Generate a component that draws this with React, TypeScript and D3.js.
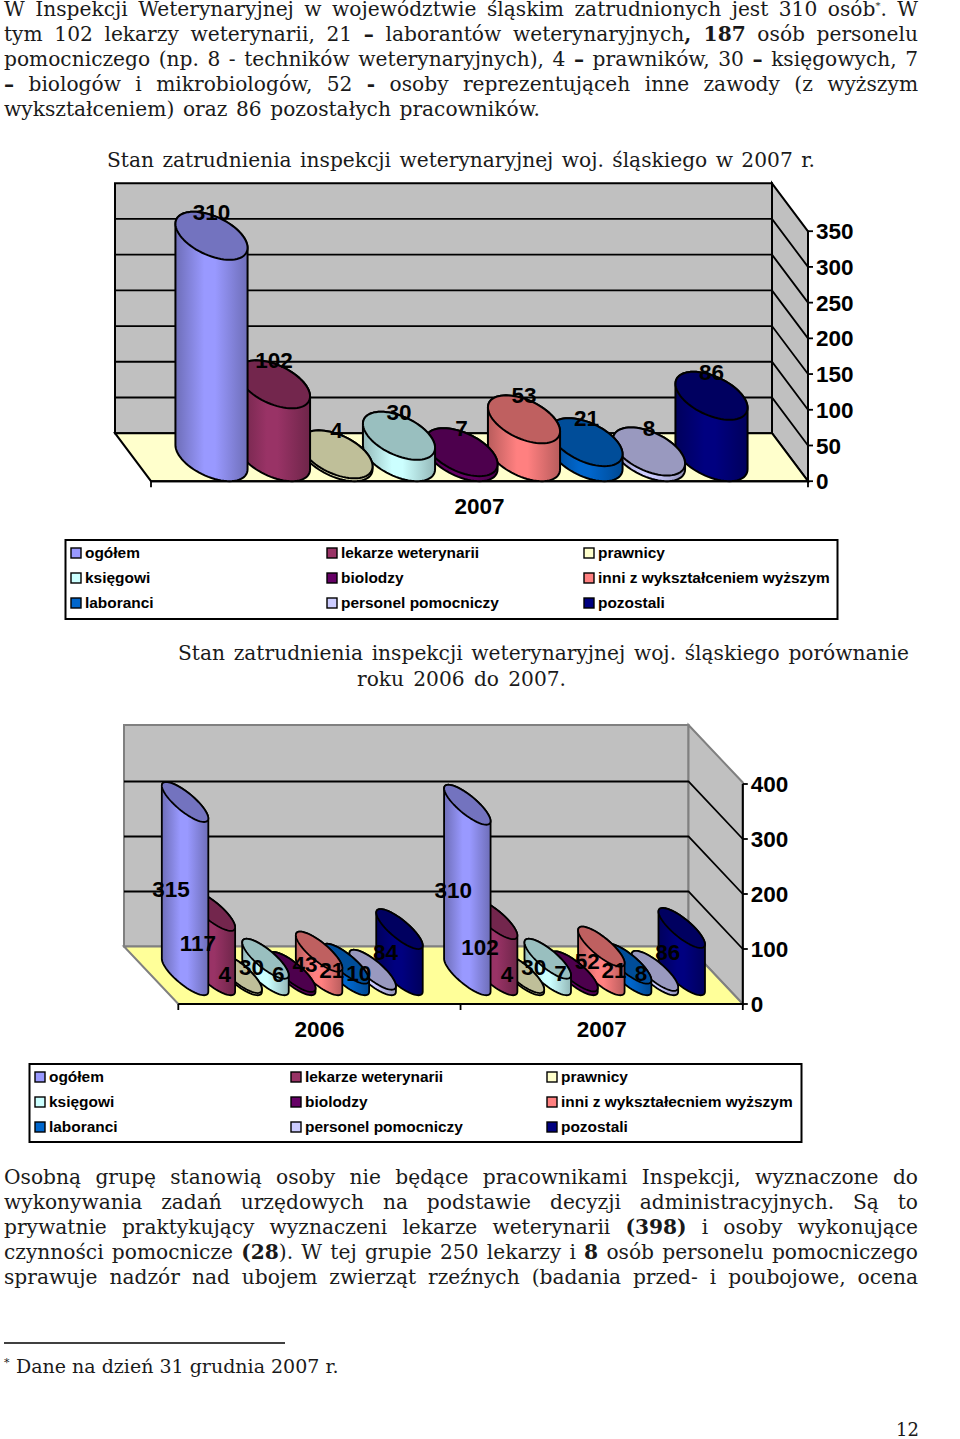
import React from "react";
import * as d3 from "d3";

const W = 960, H = 1439;
const seriesNames1 = ["ogółem","lekarze weterynarii","prawnicy","księgowi","biolodzy","inni z wykształceniem wyższym","laboranci","personel pomocniczy","pozostali"];
const seriesNames2 = ["ogółem","lekarze weterynarii","prawnicy","księgowi","biolodzy","inni z wykształecniem wyższym","laboranci","personel pomocniczy","pozostali"];
const colors = ["#9999ff","#993366","#ffffcc","#ccffff","#660066","#ff8080","#0066cc","#ccccff","#000080"];
const values2007a = [310,102,4,30,7,53,21,8,86];
const values2006 = [315,117,4,30,6,43,21,10,84];
const values2007b = [310,102,4,30,7,52,21,8,86];
const ticks1 = [0,50,100,150,200,250,300,350];
const ticks2 = [0,100,200,300,400];

const serif = "'DejaVu Serif'";
const sans = "'Liberation Sans'";

type Ln = { t: string; y: number; x?: number; j?: boolean; end?: number };
// ** toggles bold, ^ is a superscript asterisk
const bodyLines: Ln[] = [
  { t: "W Inspekcji Weterynaryjnej w województwie śląskim zatrudnionych jest 310 osób^. W", y: 15.5, j: true },
  { t: "tym 102 lekarzy weterynarii, 21 **–** laborantów weterynaryjnych**, 187** osób personelu", y: 41, j: true },
  { t: "pomocniczego (np. 8 - techników weterynaryjnych), 4 **–** prawników, 30 **–** księgowych, 7", y: 66, j: true },
  { t: "**–** biologów i mikrobiologów, 52 **-** osoby reprezentująceh inne zawody (z wyższym", y: 91, j: true },
  { t: "wykształceniem) oraz 86 pozostałych pracowników.", y: 116, end: 540 },
  { t: "Stan zatrudnienia inspekcji weterynaryjnej woj. śląskiego w 2007 r.", y: 166.5, x: 107, end: 815 },
  { t: "Stan zatrudnienia inspekcji weterynaryjnej woj. śląskiego porównanie", y: 660, x: 178, end: 909 },
  { t: "roku 2006 do 2007.", y: 685.5, x: 357, end: 566 },
  { t: "Osobną grupę stanowią osoby nie będące pracownikami Inspekcji, wyznaczone do", y: 1184, j: true },
  { t: "wykonywania zadań urzędowych na podstawie decyzji administracyjnych. Są to", y: 1209, j: true },
  { t: "prywatnie praktykujący wyznaczeni lekarze weterynarii **(398)** i osoby wykonujące", y: 1234, j: true },
  { t: "czynności pomocnicze **(28**). W tej grupie 250 lekarzy i **8** osób personelu pomocniczego", y: 1259, j: true },
  { t: "sprawuje nadzór nad ubojem zwierząt rzeźnych (badania przed- i poubojowe, ocena", y: 1284, j: true },
];
const FS = 20.2;
const SUP = 10;

function parseSegs(t: string) {
  return t.split("**").map((s, i) => ({ s, bold: i % 2 === 1 })).filter(x => x.s.length);
}

let mctx: CanvasRenderingContext2D | null = null;
function wordSpacingFor(t: string, width: number) {
  if (!mctx) mctx = document.createElement("canvas").getContext("2d")!;
  let w = 0, n = 0;
  for (const { s, bold } of parseSegs(t)) {
    mctx.font = `${bold ? "bold " : ""}${FS}px 'DejaVu Serif'`;
    w += mctx.measureText(s.replace("^", "")).width;
    n += s.split(" ").length - 1;
    if (s.includes("^")) {
      mctx.font = `${SUP}px 'DejaVu Serif'`;
      w += mctx.measureText("*").width;
    }
  }
  return n > 0 ? (width - w) / n : 0;
}

const shade = (c: string, k: number) => {
  const r = d3.rgb(c);
  return d3.rgb(r.r * k, r.g * k, r.b * k).formatHex();
};

const closedLine = d3.line<[number, number]>().curve(d3.curveLinearClosed);
const openLine = d3.line<[number, number]>();

function Cylinder({ cx, y0, y1, rx, sdx, sdy, color, id, sw }: any) {
  const pt = (t: number, cy: number): [number, number] => [cx + rx * Math.cos(t) - sdx * Math.sin(t), cy - sdy * Math.sin(t)];
  const tRight = Math.atan2(-sdx, rx);
  const tLeft = tRight + Math.PI;
  const full = d3.range(0, 72).map(i => pt((i / 72) * 2 * Math.PI, y1));
  const lower = d3.range(0, 37).map(i => pt(tLeft + (i / 36) * Math.PI, y0));
  const upper = d3.range(0, 37).map(i => pt(tRight + (i / 36) * Math.PI, y1));
  return (
    <g stroke="#000" strokeWidth={sw} strokeLinejoin="round">
      <path d={closedLine([...lower, ...upper])!} fill={`url(#${id})`} />
      <path d={closedLine(full)!} fill={shade(color, 0.75)} />
    </g>
  );
}

function Chart3D({ cfg, groups, names, ticks, maxV }: any) {
  const { bx0, bx1, by0, byTop, ddx, ddy, barDx, barDy, spacing, wallStroke, floor, catY, lg, labelMode, prefix } = cfg;
  const fx0 = bx0 + ddx, fx1 = bx1 + ddx, fy0 = by0 + ddy;
  const yBack = d3.scaleLinear().domain([0, maxV]).range([by0, by0 - cfg.hPx]);
  const yFront = d3.scaleLinear().domain([0, maxV]).range([fy0, fy0 - cfg.hPx]);
  const cats = d3.scaleBand<string>().domain(groups.map((g: any) => g.name)).range([fx0, fx1]);
  const baseY = fy0 - ddy / 2;
  const h = (v: number) => fy0 - yFront(v);
  const sx = (s: number) => (s - 4) * spacing;
  const barSeries = colors.map((_, s) => s).reverse();
  return (
    <g fontFamily={sans}>
      <defs>
        {colors.map((c, i) => (
          <linearGradient key={i} id={`${prefix}${i}`} x1="0" x2="1" y1="0" y2="0">
            <stop offset="0" stopColor={shade(c, 0.72)} />
            <stop offset="0.4" stopColor={c} />
            <stop offset="0.55" stopColor={c} />
            <stop offset="1" stopColor={shade(c, 0.72)} />
          </linearGradient>
        ))}
      </defs>
      <polygon points={`${bx0},${byTop} ${bx1},${byTop} ${bx1},${by0} ${bx0},${by0}`} fill="#c0c0c0" stroke={wallStroke} strokeWidth={2} />
      <polygon points={`${bx1},${byTop} ${fx1},${byTop + ddy} ${fx1},${fy0} ${bx1},${by0}`} fill="#c0c0c0" stroke={wallStroke} strokeWidth={2} />
      <polygon points={`${bx0},${by0} ${bx1},${by0} ${fx1},${fy0} ${fx0},${fy0}`} fill={floor} stroke={wallStroke} strokeWidth={2} />
      {ticks.slice(1).filter((t: number) => t < maxV).map((t: number) => (
        <path key={t} d={openLine([[bx0, yBack(t)], [bx1, yBack(t)], [fx1, yFront(t)]])!} fill="none" stroke="#000" strokeWidth={1.8} />
      ))}
      <line x1={fx0} x2={fx1} y1={fy0} y2={fy0} stroke="#000" strokeWidth={2} />
      <line x1={fx1} x2={fx1} y1={fy0} y2={yFront(maxV)} stroke="#000" strokeWidth={2} />
      {ticks.map((t: number) => (
        <g key={t}>
          <line x1={fx1} x2={fx1 + 5} y1={yFront(t)} y2={yFront(t)} stroke="#000" strokeWidth={1.8} />
          <text x={fx1 + cfg.tickDx} y={yFront(t)} dy="0.36em" fontSize={22.5} fontWeight={700}>{t}</text>
        </g>
      ))}
      {d3.range(groups.length + 1).map((i: number) => {
        const x = fx0 + cats.step() * i;
        return <line key={i} x1={x} x2={x} y1={fy0} y2={fy0 + 6} stroke="#000" strokeWidth={1.8} />;
      })}
      {groups.map((g: any) => {
        const mid = cats(g.name)! + cats.bandwidth() / 2;
        const c = mid - ddx / 2;
        return (
          <g key={g.name}>
            {barSeries.map((s: number) => (
              <Cylinder key={s} id={`${prefix}${s}`} cx={c + sx(s)} y0={baseY} y1={baseY - h(g.values[s])} rx={spacing / 2} sdx={barDx} sdy={barDy} color={colors[s]} sw={cfg.barStroke} />
            ))}
            <text x={mid} y={catY} dy="0.36em" textAnchor="middle" fontSize={22.5} fontWeight={700}>{g.name}</text>
          </g>
        );
      })}
      {groups.map((g: any) => {
        const mid = cats(g.name)! + cats.bandwidth() / 2;
        const c = mid - ddx / 2;
        return g.values.map((v: number, s: number) => {
          const lx = labelMode === "top" ? c + sx(s) : c + sx(s) - 14;
          const ly = labelMode === "top" ? baseY - h(v) - barDy : baseY - h(v) / 2;
          return <text key={g.name + s} x={lx} y={ly} dy="0.36em" textAnchor="middle" fontSize={22.5} fontWeight={700} fill="#000">{v}</text>;
        });
      })}
      <rect x={lg.x} y={lg.y} width={lg.w} height={lg.h} fill="#fff" stroke="#000" strokeWidth={2} />
      {names.map((n: string, i: number) => {
        const col = i % 3, row = Math.floor(i / 3);
        const x = lg.colX[col], y = lg.rowY[row];
        return (
          <g key={n}>
            <rect x={x} y={y - 5} width={10} height={10} fill={colors[i]} stroke="#000" strokeWidth={1.4} />
            <text x={x + 14} y={y} dy="0.33em" fontSize={15.45} fontWeight={700}>{n}</text>
          </g>
        );
      })}
    </g>
  );
}

const cfg1 = { prefix: "a", bx0: 115, bx1: 772, by0: 433.2, byTop: 183.3, ddx: 36, ddy: 48, hPx: 250, barDx: 18, barDy: 24, spacing: 62.5, barStroke: 2, wallStroke: "#000", floor: "#ffffcc", catY: 505.5, labelMode: "top", tickDx: 8,
  lg: { x: 65.5, y: 540, w: 772, h: 79, colX: [71, 327, 584], rowY: [553, 578, 603] } };
const cfg2 = { prefix: "b", bx0: 124, bx1: 688.5, by0: 946.5, byTop: 725, ddx: 54.3, ddy: 57.5, hPx: 220, barDx: 19, barDy: 20, spacing: 26.8, barStroke: 1.8, wallStroke: "#808080", floor: "#ffff99", catY: 1028.5, labelMode: "mid", tickDx: 8,
  lg: { x: 29.5, y: 1064, w: 772, h: 78, colX: [35, 291, 547], rowY: [1077, 1102, 1127] } };

export default function App() {
  return (
    <svg width={W} height={H} style={{ position: "absolute", left: 0, top: 0, background: "#fff" }}>
      <g fontFamily={serif} fontSize={FS} fill="#1a1a1a">
        {bodyLines.map((l, i) => {
          const x = l.x ?? 4;
          const end = l.j ? 918 : l.end;
          const ws = end ? wordSpacingFor(l.t, end - x) : 0;
          return (
            <text key={i} x={x} y={l.y} wordSpacing={ws} xmlSpace="preserve">
              {parseSegs(l.t).map((sg, k) => {
                const parts = sg.s.split("^");
                return (
                  <tspan key={k} fontWeight={sg.bold ? 700 : 400}>
                    {parts[0]}
                    {parts.length > 1 && <tspan dy={-7} fontSize={SUP}>*</tspan>}
                    {parts.length > 1 && <tspan dy={7}>{parts[1]}</tspan>}
                  </tspan>
                );
              })}
            </text>
          );
        })}
        <line x1={4} x2={285} y1={1343} y2={1343} stroke="#000" strokeWidth={1.4} />
        <text x={4} y={1366} fontSize={11}>*</text>
        <text x={16} y={1373} fontSize={19}>Dane na dzień 31 grudnia 2007 r.</text>
        <text x={919} y={1436} textAnchor="end" fontSize={18}>12</text>
      </g>
      <Chart3D cfg={cfg1} names={seriesNames1} ticks={ticks1} maxV={350} groups={[{ name: "2007", values: values2007a }]} />
      <Chart3D cfg={cfg2} names={seriesNames2} ticks={ticks2} maxV={400} groups={[{ name: "2006", values: values2006 }, { name: "2007", values: values2007b }]} />
    </svg>
  );
}
